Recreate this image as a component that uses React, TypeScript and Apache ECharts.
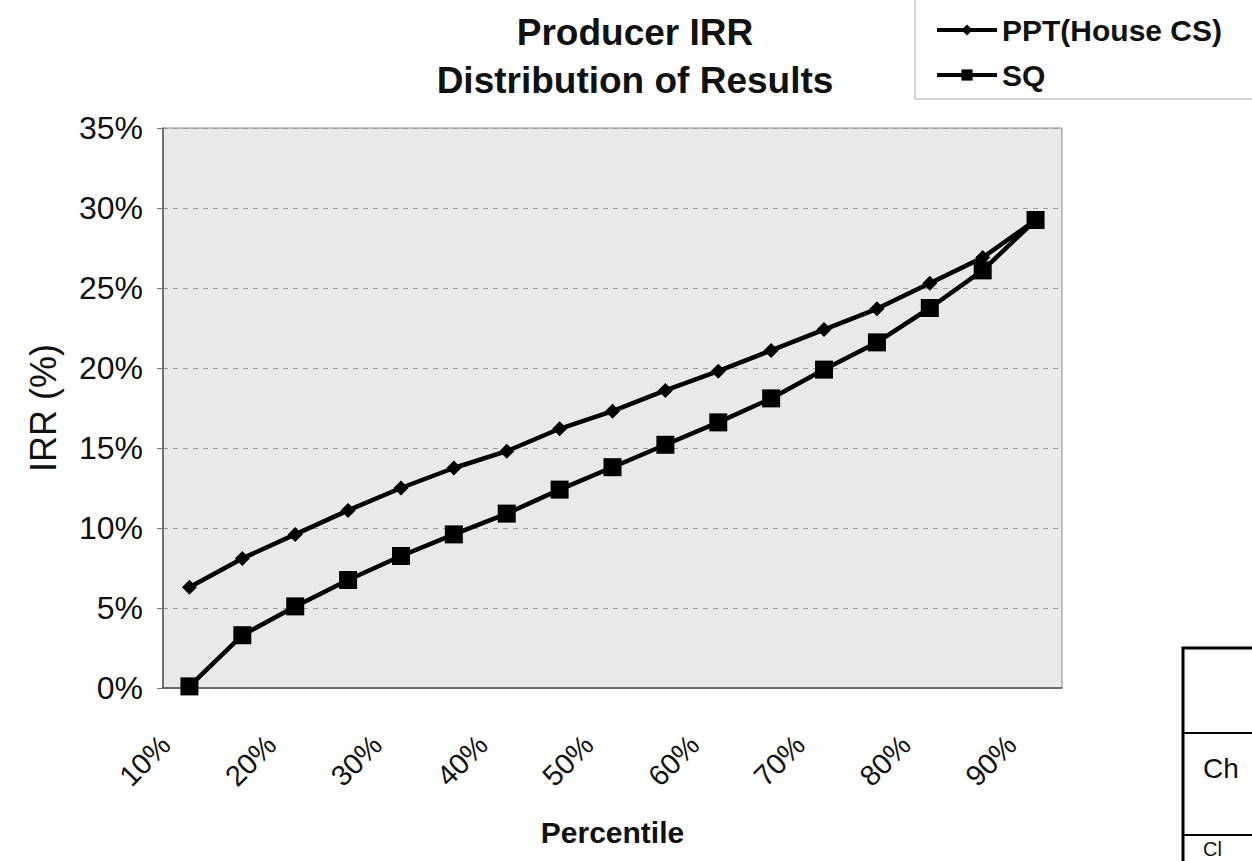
import React, { useEffect, useRef } from "react";
import * as echarts from "echarts";

// Percentile categories along the x axis (every 5th percentile)
const percentiles = [
  "10%", "15%", "20%", "25%", "30%", "35%", "40%", "45%", "50%",
  "55%", "60%", "65%", "70%", "75%", "80%", "85%", "90%",
];

// Producer IRR (%) at each percentile
const pptHouseCS = [
  6.3, 8.1, 9.6, 11.1, 12.5, 13.75, 14.8, 16.2, 17.3,
  18.6, 19.8, 21.1, 22.4, 23.7, 25.3, 26.9, 29.25,
];
const statusQuo = [
  0.1, 3.3, 5.1, 6.75, 8.25, 9.6, 10.9, 12.4, 13.8,
  15.2, 16.6, 18.1, 19.9, 21.6, 23.75, 26.1, 29.25,
];

const seriesNames = ["PPT(House CS)", "SQ"];
const titleLines = ["Producer IRR", "Distribution of Results"];
const tableTexts = ["Ch", "Cl"];

const FONT = "'Liberation Sans', Arial, Helvetica, sans-serif";
const INK = "#111111";

export default function App() {
  const ref = useRef<HTMLDivElement>(null);

  useEffect(() => {
    if (!ref.current) return;
    const chart = echarts.init(ref.current, undefined, { renderer: "svg" });

    const option: echarts.EChartsOption = {
      animation: false,
      backgroundColor: "#ffffff",
      textStyle: { fontFamily: FONT, color: INK },
      grid: {
        left: 163,
        right: 190,
        top: 128,
        bottom: 173,
        show: true,
        backgroundColor: "#e9e9e9",
        borderColor: "#8a8a8a",
        borderWidth: 1,
      },
      legend: {
        orient: "vertical",
        left: 930,
        top: 9,
        itemWidth: 60,
        itemHeight: 14,
        itemGap: 13,
        data: seriesNames,
        lineStyle: { width: 4 },
        textStyle: {
          fontFamily: FONT,
          fontSize: 30,
          fontWeight: "bold",
          color: INK,
          lineHeight: 32,
        },
      },
      xAxis: {
        type: "category",
        data: percentiles,
        boundaryGap: true,
        name: "Percentile",
        nameLocation: "middle",
        nameGap: 129,
        nameTextStyle: {
          fontFamily: FONT,
          fontSize: 30,
          fontWeight: "bold",
          color: INK,
        },
        axisLine: { lineStyle: { color: "#555555", width: 1.5 } },
        axisTick: { show: false },
        axisLabel: {
          interval: 1,
          rotate: 45,
          margin: 28,
          padding: [0, 34, 0, 0],
          fontFamily: FONT,
          fontSize: 29,
          color: INK,
        },
        splitLine: { show: false },
      },
      yAxis: {
        type: "value",
        min: 0,
        max: 35,
        interval: 5,
        name: "IRR (%)",
        nameLocation: "middle",
        nameGap: 102,
        nameTextStyle: {
          fontFamily: FONT,
          fontSize: 36,
          color: INK,
        },
        axisLine: { show: true, lineStyle: { color: "#555555", width: 1.5 } },
        axisTick: { show: true, length: 6, lineStyle: { color: "#777777" } },
        axisLabel: {
          formatter: "{value}%",
          margin: 20,
          fontFamily: FONT,
          fontSize: 32,
          color: INK,
        },
        splitLine: {
          show: true,
          lineStyle: { color: "#9a9a9a", width: 1, type: [5, 5] },
        },
      },
      series: [
        {
          name: seriesNames[0],
          type: "line",
          data: pptHouseCS,
          symbol: "diamond",
          symbolSize: 15,
          lineStyle: { color: "#000000", width: 4.5 },
          itemStyle: { color: "#000000" },
        },
        {
          name: seriesNames[1],
          type: "line",
          data: statusQuo,
          symbol: "rect",
          symbolSize: 18,
          lineStyle: { color: "#000000", width: 4.5 },
          itemStyle: { color: "#000000" },
        },
      ],
      graphic: [
        // two-line chart title
        {
          type: "text",
          x: 635,
          y: 32,
          style: {
            text: titleLines[0],
            font: `bold 37px ${FONT}`,
            fill: INK,
            textAlign: "center",
            textVerticalAlign: "middle",
          },
        },
        {
          type: "text",
          x: 635,
          y: 80,
          style: {
            text: titleLines[1],
            font: `bold 37px ${FONT}`,
            fill: INK,
            textAlign: "center",
            textVerticalAlign: "middle",
          },
        },
        // legend frame (left and bottom edges)
        {
          type: "polyline",
          shape: { points: [[915, 0], [915, 99], [1252, 99]] },
          style: { stroke: "#a8a8a8", lineWidth: 1, fill: "none" },
        },
        // neighbouring table frame in the lower right corner
        {
          type: "polyline",
          shape: { points: [[1252, 648], [1183, 648], [1183, 861]] },
          style: { stroke: "#000000", lineWidth: 3, fill: "none" },
        },
        {
          type: "line",
          shape: { x1: 1183, y1: 733, x2: 1252, y2: 733 },
          style: { stroke: "#000000", lineWidth: 2 },
        },
        {
          type: "line",
          shape: { x1: 1183, y1: 835, x2: 1252, y2: 835 },
          style: { stroke: "#000000", lineWidth: 2 },
        },
        {
          type: "text",
          x: 1203,
          y: 768,
          style: {
            text: tableTexts[0],
            font: `28px ${FONT}`,
            fill: INK,
            textVerticalAlign: "middle",
          },
        },
        {
          type: "text",
          x: 1203,
          y: 849,
          style: {
            text: tableTexts[1],
            font: `20px ${FONT}`,
            fill: INK,
            textVerticalAlign: "middle",
          },
        },
      ],
    };

    chart.setOption(option);
    return () => chart.dispose();
  }, []);

  return (
    <div
      ref={ref}
      style={{
        position: "fixed",
        left: 0,
        top: 0,
        width: 1252,
        height: 861,
        background: "#ffffff",
      }}
    />
  );
}
